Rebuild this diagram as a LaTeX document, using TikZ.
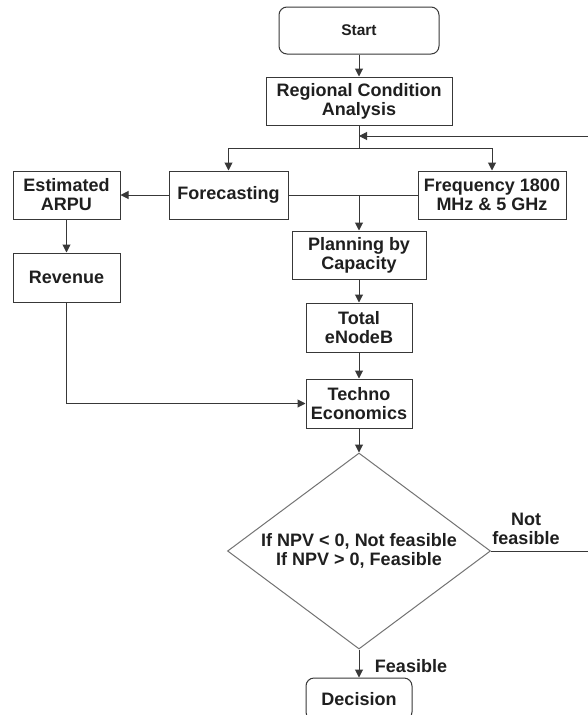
\documentclass[tikz,border=0pt]{standalone}
\usepackage{fontspec}
\setmainfont{Liberation Sans}
\usetikzlibrary{shapes.geometric,arrows.meta}
\begin{document}
\begin{tikzpicture}[x=1pt,y=-1pt,
  txt/.style={font=\bfseries\fontsize{18}{19}\selectfont,text=black!88,align=center},
  box/.style={txt,draw=black!78,line width=1pt,fill=white,inner sep=0pt},
  rbox/.style={box,rounded corners=8pt},
  ln/.style={draw=black!78,line width=1pt},
  arr/.style={ln,-{Triangle[length=8pt,width=8pt]}},
  lbl/.style={txt,inner sep=0pt}]
\fill[white] (0,0) rectangle (587,715);
\useasboundingbox (0,0) rectangle (587,715);

% nodes
\node[rbox,minimum width=160pt,minimum height=47pt,font=\bfseries\fontsize{15.5}{17}\selectfont] (start) at (359,30.5) {Start};
\node[box,minimum width=186pt,minimum height=48pt] (rca) at (359,101) {Regional Condition\\Analysis};
\node[box,minimum width=107pt,minimum height=48pt] (arpu) at (66.5,195) {Estimated\\ARPU};
\node[box,minimum width=119pt,minimum height=48pt] (fore) at (228.5,195) {Forecasting};
\node[box,minimum width=148pt,minimum height=48pt] (freq) at (492,195) {Frequency 1800\\MHz \& 5 GHz};
\node[box,minimum width=134pt,minimum height=48pt] (plan) at (359,255) {Planning by\\Capacity};
\node[box,minimum width=107pt,minimum height=49pt] (rev) at (66.5,277.5) {Revenue};
\node[box,minimum width=106pt,minimum height=49pt] (total) at (359,327.5) {Total\\eNodeB};
\node[box,minimum width=106pt,minimum height=49pt] (techno) at (359,403.5) {Techno\\Economics};
\node[diamond,draw=black!55,line width=1pt,fill=white,minimum width=263pt,minimum height=196pt,inner sep=0pt] (dia) at (359,551) {};
\node[lbl] (dtext) at (dia.center) {If NPV < 0, Not feasible\\If NPV > 0, Feasible};
\node[rbox,minimum width=106pt,minimum height=42pt] (dec) at (359,699) {Decision};
\node[lbl] (nf) at (526,529) {Not\\feasible};
\node[lbl] (fe) at (411,666) {Feasible};

% coordinates
\coordinate (br) at (359,148);
\coordinate (fb) at (359,136);
\coordinate (fm) at (plan.north |- fore.east);

% connectors
\draw[arr] (start) -- (rca);
\draw[ln] (rca.south) -- (br);
\draw[arr] (br) -| (fore.north);
\draw[arr] (br) -| (freq.north);
\draw[arr] (dia.east) -- ++(120,0) |- (fb);
\draw[arr] (fore.west) -- (arpu.east);
\draw[ln] (fore.east) -- (freq.west);
\draw[arr] (fm) -- (plan.north);
\draw[arr] (arpu.south) -- (rev.north);
\draw[arr] (plan.south) -- (total.north);
\draw[arr] (total.south) -- (techno.north);
\draw[arr] (rev.south) |- (techno.west);
\draw[arr] (techno.south) -- (dia.north);
\draw[arr] (dia.south) -- (dec.north);
\end{tikzpicture}
\end{document}
